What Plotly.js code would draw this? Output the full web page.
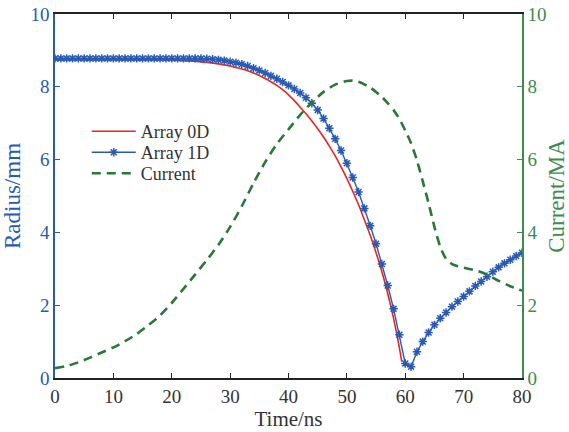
<!DOCTYPE html>
<html>
<head>
<meta charset="utf-8">
<script src="https://cdn.plot.ly/plotly-3.0.1.min.js"></script>
<style>html,body{margin:0;padding:0;background:#fff;}#chart{width:569px;height:432px;}</style>
</head>
<body>
<div id="chart"></div>
<script>
// Array 1D (with markers), time in ns, radius in mm
const time1D = [0,1,2,3,4,5,6,7,8,9,10,11,12,13,14,15,16,17,18,19,20,21,22,23,24,25,26,27,28,29,30,31,32,33,34,35,36,37,38,39,40,41,42,43,44,45,46,47,48,49,50,51,52,53,54,55,56,57,58,59,60,61,62,63,64,65,66,67,68,69,70,71,72,73,74,75,76,77,78,79,80];
const radius1D = [8.78,8.78,8.78,8.78,8.78,8.78,8.78,8.78,8.78,8.78,8.78,8.78,8.78,8.78,8.78,8.78,8.78,8.78,8.78,8.78,8.78,8.78,8.78,8.78,8.78,8.78,
  8.77,8.76,8.74,8.72,8.69,8.66,8.62,8.57,8.51,8.45,8.38,8.30,8.22,8.13,8.04,7.94,7.83,7.70,7.55,7.36,7.13,6.86,6.57,6.25,5.90,5.51,5.11,4.66,4.18,3.69,3.13,2.54,1.90,1.19,0.40,
  0.31,0.72,1.00,1.25,1.46,1.64,1.80,1.96,2.10,2.24,2.38,2.53,2.65,2.78,2.92,3.04,3.15,3.25,3.35,3.44];

// Array 0D (line only)
const time0D = [0,10,16,20,22,24,26,28,30,31,32,33,34,35,36,37,38,39,40,41,42,43,44,45,46,47,48,49,50,51,52,53,54,55,56,57,58,59,59.4];
const radius0D = [8.76,8.76,8.75,8.74,8.72,8.70,8.67,8.63,8.57,8.53,8.49,8.44,8.38,8.31,8.23,8.14,8.04,7.92,7.78,7.62,7.44,7.26,7.06,6.85,6.62,6.37,6.10,5.80,5.48,5.13,4.76,4.35,3.92,3.44,2.92,2.32,1.64,0.83,0.45];

// Current (right axis), MA
const timeCurrent = [0,2,4,6,8,10,12,14,16,18,20,22,24,26,28,30,32,34,36,38,40,42,44,46,48,50,51,52,54,56,57,58,59,60,61,62,63,64,65,66,67,68,69,70,72,74,76,78,80];
const current = [0.27,0.33,0.43,0.56,0.70,0.84,1.01,1.21,1.45,1.72,2.06,2.45,2.84,3.24,3.66,4.15,4.72,5.35,5.93,6.43,6.83,7.23,7.57,7.86,8.06,8.16,8.17,8.14,7.98,7.72,7.55,7.36,7.12,6.80,6.45,5.98,5.40,4.80,4.15,3.60,3.27,3.13,3.07,3.03,2.96,2.84,2.67,2.52,2.40];

const tickVals = [0,10,20,30,40,50,60,70,80];
const yTickVals = [0,2,4,6,8,10];

const FONT = 'Liberation Serif';
const BLUE = 'rgb(40,90,180)';
const RED = 'rgb(235,35,35)';
const GREEN = 'rgb(40,120,55)';
const GREEN_AXIS = 'rgb(60,140,80)';

const traces = [
  {x: time0D, y: radius0D, name: 'Array 0D', type: 'scatter', mode: 'lines', legend: 'legend',
   line: {color: RED, width: 1.6, shape: 'spline', smoothing: 0.5}, yaxis: 'y'},
  {x: time1D, y: radius1D, name: 'Array 1D', type: 'scatter', mode: 'lines+markers', legend: 'legend2',
   line: {color: BLUE, width: 1.4},
   marker: {symbol: 'asterisk-open', size: 7, color: BLUE, line: {color: BLUE, width: 1.5}}, yaxis: 'y'},
  {x: timeCurrent, y: current, name: 'Current', type: 'scatter', mode: 'lines', legend: 'legend3',
   line: {color: GREEN, width: 2.6, dash: '9px,6px', shape: 'spline', smoothing: 0.6}, yaxis: 'y2'}
];

function legendAt(yPaper) {
  return {x: 0.068, y: yPaper, xanchor: 'left', yanchor: 'middle', bgcolor: 'rgba(0,0,0,0)',
          borderwidth: 0, font: {family: FONT, size: 18, color: '#333'}, itemwidth: 44};
}

const layout = {
  width: 569, height: 432,
  margin: {l: 55, r: 47, t: 14, b: 54},
  paper_bgcolor: '#fff', plot_bgcolor: '#fff',
  font: {family: FONT, size: 18, color: '#333'},
  showlegend: true,
  legend: legendAt(0.6772),
  legend2: legendAt(0.6195),
  legend3: legendAt(0.5618),
  xaxis: {range: [0, 80], tickvals: tickVals, ticks: 'inside', ticklen: 5, tickwidth: 1.2,
          tickcolor: '#222', showline: true, linecolor: '#222', linewidth: 1.8, mirror: 'ticks',
          showgrid: false, zeroline: false, tickfont: {family: FONT, size: 19, color: '#333'},
          title: {text: 'Time/ns', font: {family: FONT, size: 21, color: '#333'}, standoff: 4}},
  yaxis: {range: [0, 10], tickvals: yTickVals, ticks: 'inside', ticklen: 5, tickwidth: 1.2,
          tickcolor: BLUE, showline: true, linecolor: BLUE, linewidth: 1.8,
          showgrid: false, zeroline: false, tickfont: {family: FONT, size: 19, color: BLUE},
          title: {text: 'Radius/mm', font: {family: FONT, size: 23, color: BLUE}, standoff: 9}},
  yaxis2: {range: [0, 10], tickvals: yTickVals, ticks: 'inside', ticklen: 5, tickwidth: 1.2,
           tickcolor: GREEN_AXIS, showline: true, linecolor: GREEN_AXIS, linewidth: 1.8,
           overlaying: 'y', side: 'right', anchor: 'x',
           showgrid: false, zeroline: false, tickfont: {family: FONT, size: 19, color: GREEN_AXIS},
           title: {text: 'Current/MA', font: {family: FONT, size: 23, color: GREEN_AXIS}, standoff: 9}}
};

Plotly.newPlot('chart', traces, layout, {displayModeBar: false, staticPlot: true});
</script>
</body>
</html>
